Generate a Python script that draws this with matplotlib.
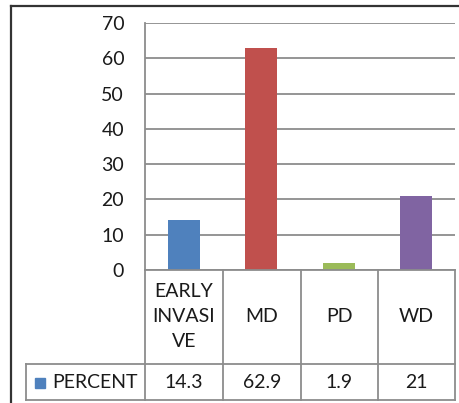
import matplotlib
matplotlib.use("Agg")
import matplotlib.pyplot as plt
from matplotlib.lines import Line2D
from matplotlib.patches import Rectangle

categories = ["EARLY\nINVASI\nVE", "MD", "PD", "WD"]
percent = [14.3, 62.9, 1.9, 21]
value_labels = ["14.3", "62.9", "1.9", "21"]
bar_colors = ["#4F81BD", "#C0504D", "#9BBB59", "#8064A2"]
series_name = "PERCENT"
y_ticks = [0, 10, 20, 30, 40, 50, 60, 70]

W, H = 459, 403
plt.rcParams["font.family"] = ["Lato", "DejaVu Sans"]
FS = 14
TXT = "#1a1a1a"

fig = plt.figure(figsize=(W / 100, H / 100), dpi=100)


def fx(x):
    return x / W


def fy(y):
    return 1 - y / H


# plot area in pixel terms
left, right, top, bottom = 145, 455, 23, 270
ax = fig.add_axes([fx(left), fy(bottom), fx(right - left), (bottom - top) / H])
x = range(len(categories))
ax.bar(x, percent, width=0.41, color=bar_colors, zorder=3)
ax.set_xlim(-0.5, len(categories) - 0.5)
ax.set_ylim(0, 70)
ax.set_yticks(y_ticks)
ax.set_xticks([])
ax.yaxis.grid(True, color="#8c8c8c", lw=1.3, zorder=0)
for s in ["top", "right", "bottom"]:
    ax.spines[s].set_visible(False)
ax.spines["left"].set_color("#8c8c8c")
ax.spines["left"].set_linewidth(1.3)
ax.tick_params(axis="y", length=0, pad=15, labelsize=FS, labelcolor=TXT)

# data table under the chart
grid_kw = dict(color="#8c8c8c", lw=1.3)
col_edges = [145, 223, 301, 378, 455]
hdr_top, hdr_bot, row_top, row_bot = 270, 363, 364, 400
for xe in col_edges:
    fig.add_artist(Line2D([fx(xe)] * 2, [fy(hdr_top), fy(row_bot)], **grid_kw))
fig.add_artist(Line2D([fx(145), fx(455)], [fy(hdr_top)] * 2, **grid_kw))
fig.add_artist(Line2D([fx(26), fx(455)], [fy(row_top)] * 2, **grid_kw))
fig.add_artist(Line2D([fx(26), fx(455)], [fy(row_bot)] * 2, **grid_kw))
fig.add_artist(Line2D([fx(26)] * 2, [fy(row_top), fy(row_bot)], **grid_kw))

for i, (cat, val) in enumerate(zip(categories, value_labels)):
    cx = (col_edges[i] + col_edges[i + 1]) / 2
    fig.text(fx(cx), fy((hdr_top + hdr_bot) / 2), cat, ha="center", va="center",
             fontsize=FS, color=TXT, linespacing=1.55)
    fig.text(fx(cx), fy((row_top + row_bot) / 2), val, ha="center", va="center",
             fontsize=FS, color=TXT)

# legend key for the series row
fig.add_artist(Rectangle((fx(35), fy(388)), 10 / W, 10 / H, color=bar_colors[0]))
fig.text(fx(52), fy((row_top + row_bot) / 2), series_name, ha="left", va="center",
         fontsize=FS, color=TXT)

# outer frame
frame_kw = dict(color="#333333", lw=1.6)
fig.add_artist(Line2D([fx(11), fx(11)], [fy(6), 0], **frame_kw))
fig.add_artist(Line2D([fx(11), 1], [fy(6), fy(6)], **frame_kw))

fig.savefig("out.png", dpi=100)
